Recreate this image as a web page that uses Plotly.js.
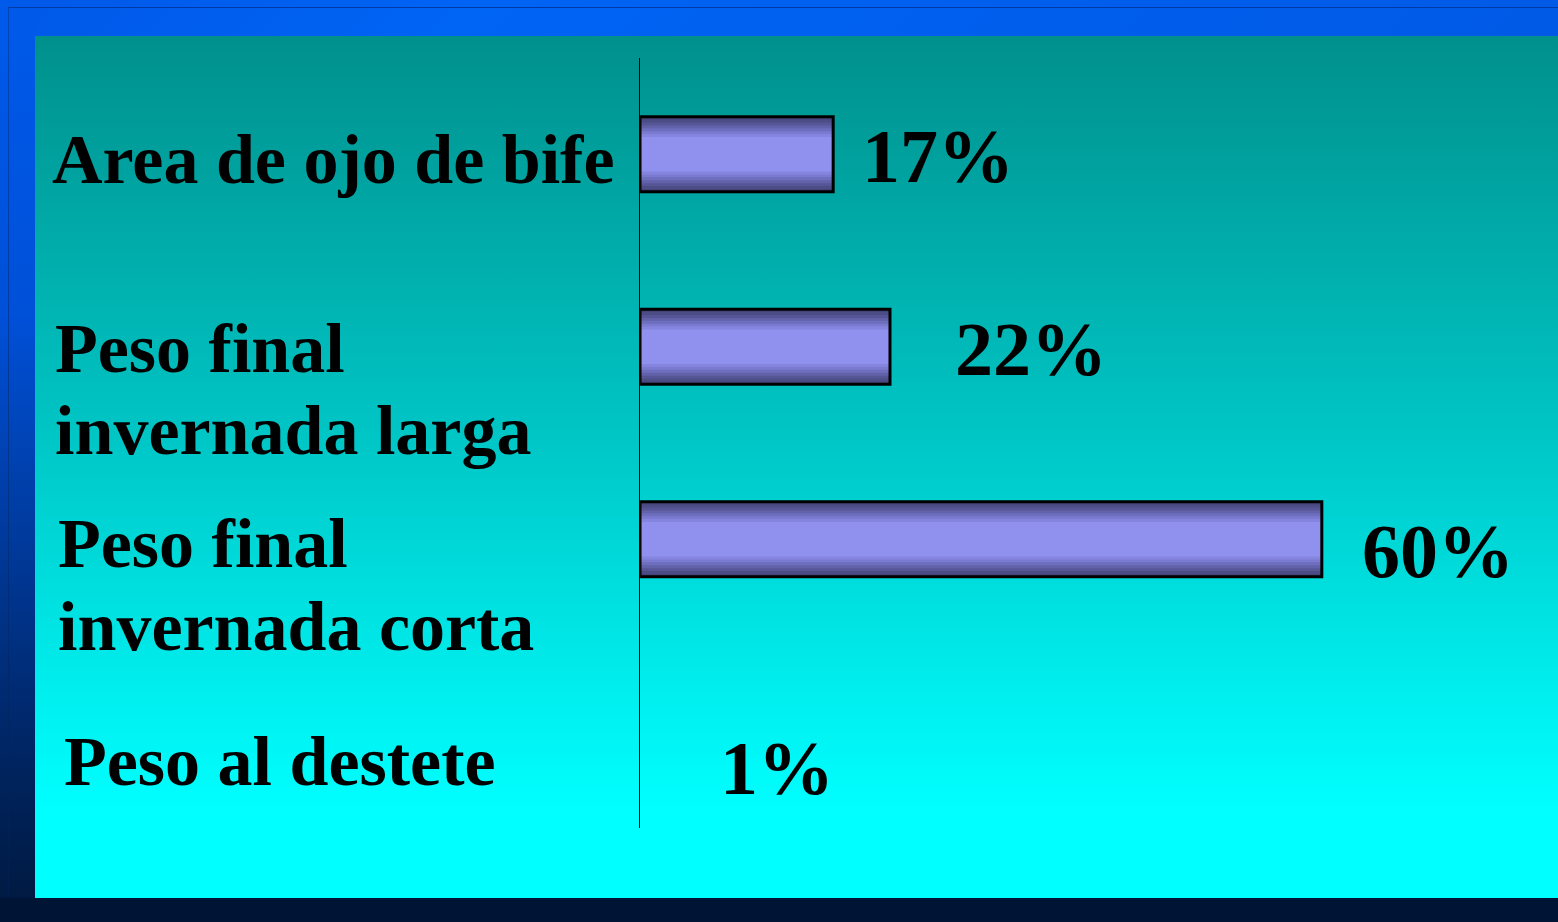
<!DOCTYPE html>
<html>
<head>
<meta charset="utf-8">
<script src="https://cdn.plot.ly/plotly-3.0.1.min.js"></script>
<style>
  html, body { margin:0; padding:0; width:1558px; height:922px; overflow:hidden; background:#001535; }
  #top { position:absolute; left:0; top:0; width:1558px; height:36px;
         background: linear-gradient(135deg, #0058E8 0%, #0064F4 30%, #005FEE 60%, #005AE6 100%); }
  #topline { position:absolute; left:8px; top:7px; width:1550px; height:1px; background:#003AA8; }
  #left { position:absolute; left:0; top:0; width:35px; height:898px;
          background: linear-gradient(180deg, #005AEA 0%, #0050D8 35%, #003A9C 60%, #002460 85%, #001A42 100%); }
  #leftline { position:absolute; left:8px; top:7px; width:1px; height:891px;
          background: linear-gradient(180deg, #003AA8 0%, #002050 100%); opacity:0.7; }
  #bottom { position:absolute; left:0; top:898px; width:1558px; height:24px; background:#001535; }
  #panel { position:absolute; left:35px; top:36px; width:1523px; height:862px;
           background: linear-gradient(180deg, #00908C 0%, #00C4C4 45%, #00EDED 75%, #00FFFF 90%, #00FFFF 100%); }
  #chart { position:absolute; left:0; top:0; width:1558px; height:922px; }
</style>
</head>
<body>
<div id="top"></div>
<div id="left"></div>
<div id="topline"></div>
<div id="leftline"></div>
<div id="bottom"></div>
<div id="panel"></div>
<div id="chart"></div>
<script>
// ---- data ----
const categories = ['Area de ojo de bife', 'Peso final<br>invernada larga', 'Peso final<br>invernada corta', 'Peso al destete'];
const barValues = [17, 22, 60, 0];
const valueLabels = ['17%', '22%', '60%', '1%'];

// ---- style ----
const plotLeft = 640, plotTop = 58, plotBottom = 828, plotRight = 1540;
const W = 1558, H = 922;
const xMax = 79.2;
const catSpacing = (plotBottom - plotTop) / categories.length;

const layerWidths = [0.39, 0.36, 0.33, 0.30, 0.27, 0.24, 0.21, 0.18];
const layerColors = ['#44447A', '#4C4C86', '#565696', '#6262AA', '#6E6EBE', '#7A7AD0', '#8585E0', '#9090EE'];

const traces = layerWidths.map((w, k) => ({
  type: 'bar', orientation: 'h',
  x: barValues, y: categories,
  width: w,
  marker: { color: layerColors[k], line: { width: 0 } },
  hoverinfo: 'skip', showlegend: false
}));
traces.push({
  type: 'bar', orientation: 'h',
  x: barValues, y: categories,
  width: 0.39,
  marker: { color: 'rgba(0,0,0,0)',
            line: { width: barValues.map(v => (v > 0 ? 3 : 0)), color: '#000' } },
  hoverinfo: 'skip', showlegend: false
});

const fontFamily = 'Liberation Serif, Times New Roman, serif';
const catFont = 70, valFont = 76;
const ascOff = 0.3375; // baseline offset from text-box centre (em)

// left edges and baselines of category label lines (pixels)
const catLineLayout = [
  { left: 52, base: [183] },
  { left: 55, base: [372, 454] },
  { left: 58, base: [567, 650] },
  { left: 64, base: [785] }
];
// value label gap after bar end and baseline (pixels)
const valGap = [29, 65, 40, 80];
const valBase = [182, 375, 577, 794];

const annotations = [];
categories.forEach((cat, i) => {
  const catPx = plotTop + catSpacing * (i + 0.5);
  const lines = cat.split('<br>');
  lines.forEach((ln, j) => {
    const base = catLineLayout[i].base[j];
    annotations.push({
      xref: 'x', yref: 'y', x: 0, y: cat,
      xanchor: 'left', yanchor: 'middle',
      xshift: catLineLayout[i].left - plotLeft - 2,
      yshift: catPx - (base - ascOff * catFont),
      text: ln, showarrow: false,
      font: { family: fontFamily, size: catFont, color: '#000', weight: 'bold' }
    });
  });
  annotations.push({
    xref: 'x', yref: 'y', x: barValues[i], y: cat,
    xanchor: 'left', yanchor: 'middle',
    xshift: valGap[i] - 2,
    yshift: catPx - (valBase[i] - ascOff * valFont),
    text: valueLabels[i], showarrow: false,
    font: { family: fontFamily, size: valFont, color: '#000', weight: 'bold' }
  });
});

const layout = {
  width: W, height: H,
  margin: { l: plotLeft, r: W - plotRight, t: plotTop, b: H - plotBottom, pad: 0 },
  paper_bgcolor: 'rgba(0,0,0,0)', plot_bgcolor: 'rgba(0,0,0,0)',
  barmode: 'overlay',
  showlegend: false,
  xaxis: { range: [0, xMax], showgrid: false, zeroline: false, showline: false,
           showticklabels: false, ticks: '' },
  yaxis: { type: 'category', categoryarray: categories, range: [categories.length - 0.5, -0.5],
           showgrid: false, zeroline: false, showline: true, linecolor: '#000', linewidth: 1,
           showticklabels: false, ticks: '' },
  annotations: annotations
};

Plotly.newPlot('chart', traces, layout, { staticPlot: true, displayModeBar: false });
</script>
</body>
</html>
